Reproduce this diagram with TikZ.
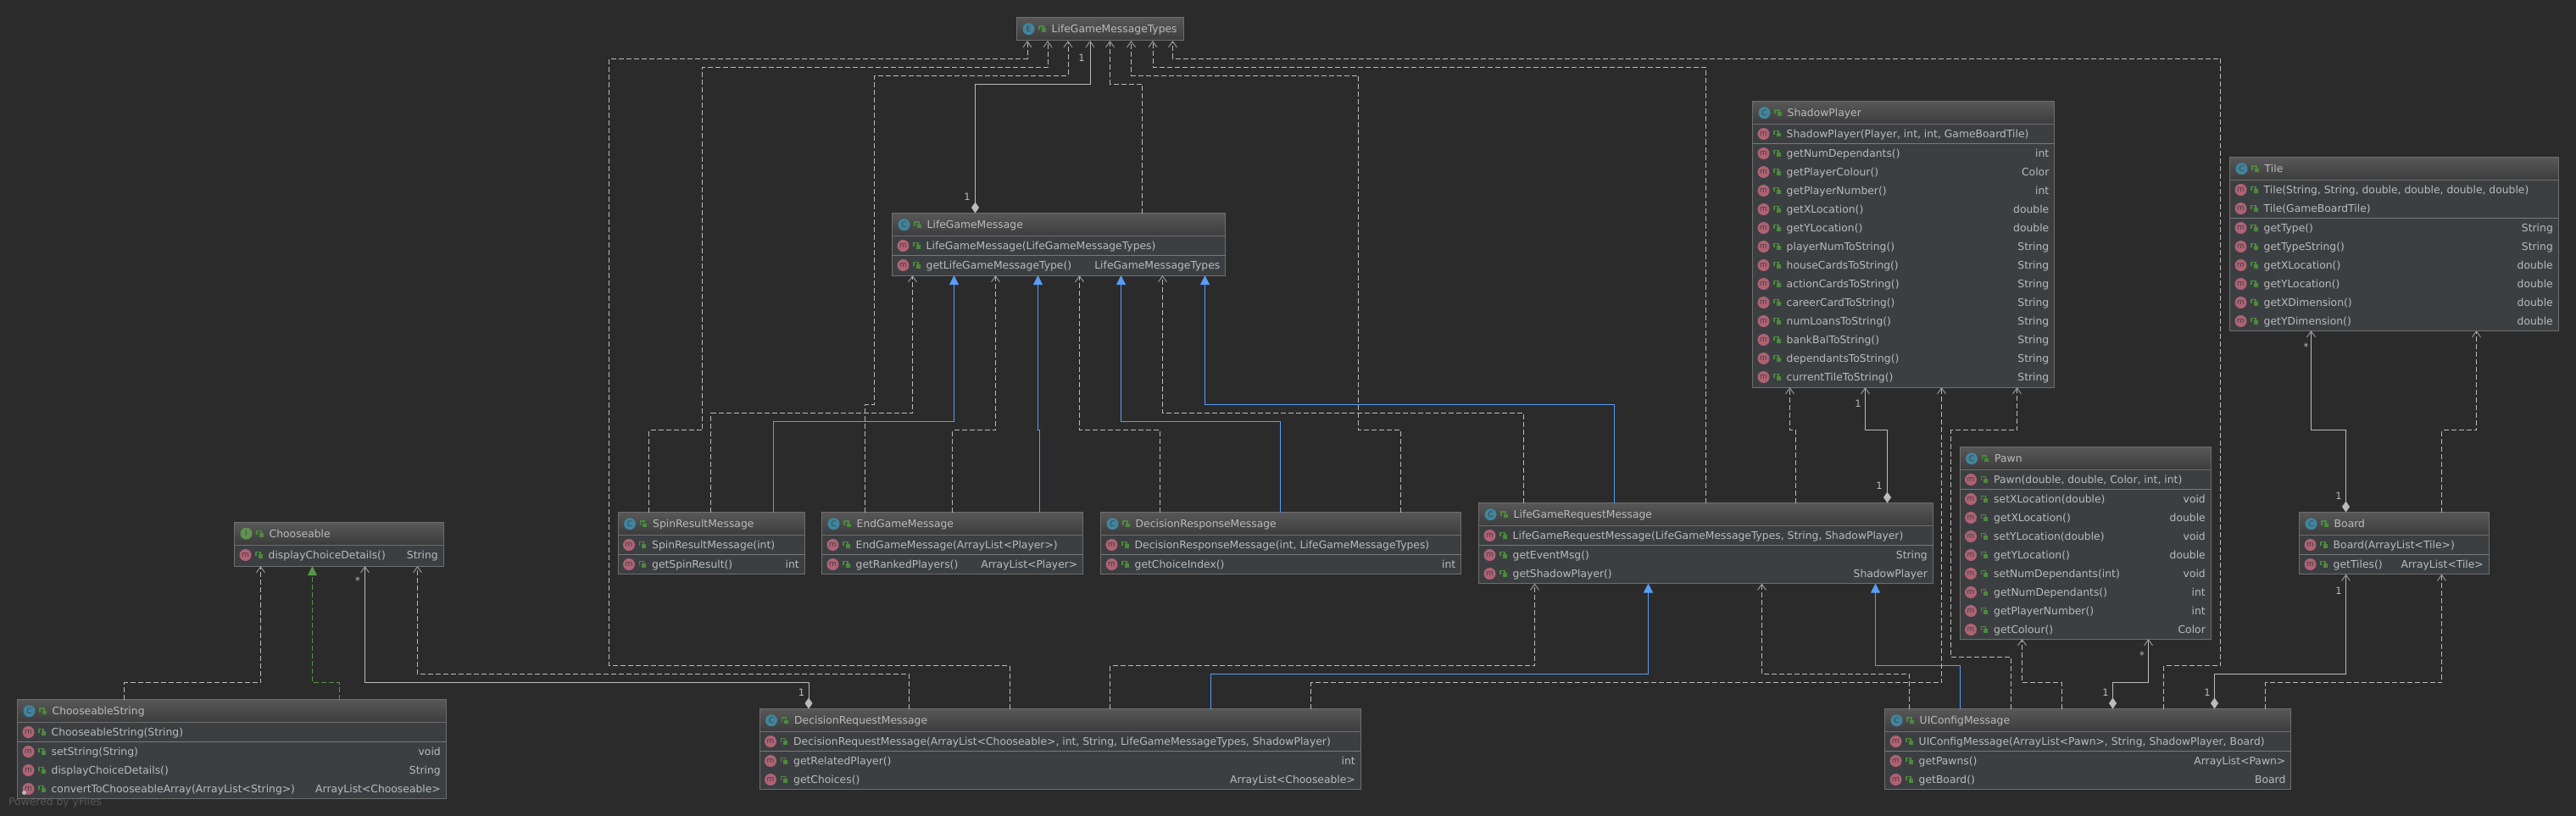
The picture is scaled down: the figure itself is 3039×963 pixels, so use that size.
\documentclass[tikz,border=0pt]{standalone}
\usepackage{fontspec}
\setmainfont{DejaVu Sans}
\usepackage{xcolor}
\usepackage{tikz}
\usetikzlibrary{
	arrows.meta,
	fit
}
\definecolor{PanelBg}{RGB}{43,43,43}
\definecolor{BodyFill}{RGB}{60,63,65}
\definecolor{HeadTop}{RGB}{88,88,88}
\definecolor{HeadBottom}{RGB}{60,60,60}
\definecolor{BoxEdge}{RGB}{110,110,110}
\definecolor{RowLine}{RGB}{120,120,120}
\definecolor{LabelText}{RGB}{187,187,187}
\definecolor{FootText}{RGB}{88,88,88}
\definecolor{EdgeGrey}{RGB}{187,187,187}
\definecolor{TipGrey}{RGB}{150,150,150}
\definecolor{EdgeBlue}{RGB}{88,157,246}
\definecolor{EdgeGreen}{RGB}{88,150,72}
\definecolor{ClassTeal}{RGB}{64,133,159}
\definecolor{IfaceGreen}{RGB}{98,145,79}
\definecolor{MethodPink}{RGB}{176,98,116}
\definecolor{LockGreen}{RGB}{76,138,60}
\tikzset{
	rowfont/.style={font=\fontsize{12.35pt}{14pt}\selectfont, text=LabelText},
	umlbody/.style={draw=BoxEdge, fill=BodyFill, line width=1pt, inner sep=0pt, outer sep=0pt},
	umlhead/.style={draw=BoxEdge, top color=HeadTop, bottom color=HeadBottom, line width=1pt, inner sep=0pt, outer sep=0pt},
	rowtext/.style={rowfont, anchor=west, inner sep=0pt, text height=10pt, text depth=1.4pt},
	rowret/.style={rowfont, anchor=east, inner sep=0pt, text height=10pt, text depth=1.4pt},
	kindicon/.style={circle, minimum size=14pt, inner sep=0pt, text=black!75, font=\fontsize{9pt}{9pt}\selectfont},
	multi/.style={font=\fontsize{11.5pt}{12pt}\selectfont, text=LabelText, inner sep=0pt},
	dep/.style={draw=EdgeGrey, line width=1pt, dash pattern=on 6pt off 3pt, -{Straight Barb[width=10pt,length=7pt,line width=1pt,color=TipGrey]}},
	assoc/.style={draw=EdgeGrey, line width=1pt, {Diamond[width=9pt,length=13pt,color=EdgeGrey]}-{Straight Barb[width=10pt,length=7pt,line width=1pt,color=TipGrey]}},
	extends/.style={draw=EdgeBlue, line width=1pt, -{Triangle[width=11pt,length=11pt,color=EdgeBlue]}},
	realizes/.style={draw=EdgeGreen, line width=1pt, dash pattern=on 6pt off 3pt, -{Triangle[width=11pt,length=11pt,color=EdgeGreen]}}
}
\newcommand{\lockicon}[2]{%
	\fill[LockGreen] (#1-1,#2-1) rectangle (#1+4,#2+3.5);
	\draw[LockGreen, line width=1.4pt] (#1-3.5,#2+1) -- (#1-3.5,#2-3.5) -- (#1+1.5,#2-3.5) -- (#1+1.5,#2-1);
}
% title, icon letter, icon colour, left, top, right, bottom
\newcommand{\umlbox}[7]{%
	\node[umlbody, fit={(#4,#5) (#6,#7)}] (#1) {};
	\node[umlhead, fit={(#4,#5) (#6,#5+27)}] (#1-head) {};
	\node[kindicon, fill=#3] (#1-icon) at (#4+14,#5+13.7) {#2};
	\lockicon{#4+30}{#5+14}
	\node[rowtext] (#1-title) at (#4+41,#5+13.7) {#1};
}
\newcommand{\umlctor}[3]{%
	\node[kindicon, fill=MethodPink, xshift=13pt] (#1-#2-icon) at (#1.west |- 0,#2) {m};
	\path (#1.west |- 0,#2) ++(29,0) coordinate (#1-#2-lock);
	\fill[LockGreen] (#1-#2-lock) ++(-1,-1) rectangle ++(5,4.5);
	\draw[LockGreen, line width=1.4pt] (#1-#2-lock) ++(-3.5,1) -- ++(0,-4.5) -- ++(5,0) -- ++(0,2.5);
	\node[rowtext, xshift=40pt] (#1-#2-text) at (#1.west |- 0,#2) {#3};
}
\newcommand{\umlrow}[4]{%
	\umlctor{#1}{#2}{#3}
	\node[rowret, xshift=-6pt] (#1-#2-ret) at (#1.east |- 0,#2) {#4};
}
\newcommand{\umldiv}[2]{\draw[RowLine, line width=1pt] (#1.west |- 0,#2) -- (#1.east |- 0,#2);}

\begin{document}
\begin{tikzpicture}[x=1pt, y=-1pt]
	\path[use as bounding box, fill=PanelBg] (0,0) rectangle (3039,963);

	% enum and base message
	\umlbox{LifeGameMessageTypes}{E}{ClassTeal}{1199.5}{20.5}{1396}{48}
	\umlbox{LifeGameMessage}{C}{ClassTeal}{1052.5}{251.5}{1445.5}{325}
	\umlctor{LifeGameMessage}{290}{LifeGameMessage(LifeGameMessageTypes)}
	\umlrow{LifeGameMessage}{313}{getLifeGameMessageType()}{LifeGameMessageTypes}
	\umldiv{LifeGameMessage}{301.5}

	% choices
	\umlbox{Chooseable}{I}{IfaceGreen}{276.5}{616}{523}{668}
	\umlrow{Chooseable}{655}{displayChoiceDetails()}{String}

	\umlbox{ChooseableString}{C}{ClassTeal}{20.5}{825.5}{526}{942}
	\umlctor{ChooseableString}{864}{ChooseableString(String)}
	\umldiv{ChooseableString}{875.5}
	\umlrow{ChooseableString}{887}{setString(String)}{void}
	\umlrow{ChooseableString}{909}{displayChoiceDetails()}{String}
	\umlrow{ChooseableString}{931}{convertToChooseableArray(ArrayList<String>)}{ArrayList<Chooseable>}

	% message subclasses
	\umlbox{SpinResultMessage}{C}{ClassTeal}{729}{604.5}{949}{677.5}
	\umlctor{SpinResultMessage}{643}{SpinResultMessage(int)}
	\umldiv{SpinResultMessage}{654.5}
	\umlrow{SpinResultMessage}{666}{getSpinResult()}{int}

	\umlbox{EndGameMessage}{C}{ClassTeal}{969.5}{604.5}{1277.5}{677.5}
	\umlctor{EndGameMessage}{643}{EndGameMessage(ArrayList<Player>)}
	\umldiv{EndGameMessage}{654.5}
	\umlrow{EndGameMessage}{666}{getRankedPlayers()}{ArrayList<Player>}

	\umlbox{DecisionResponseMessage}{C}{ClassTeal}{1298.5}{604.5}{1723.5}{677.5}
	\umlctor{DecisionResponseMessage}{643}{DecisionResponseMessage(int, LifeGameMessageTypes)}
	\umldiv{DecisionResponseMessage}{654.5}
	\umlrow{DecisionResponseMessage}{666}{getChoiceIndex()}{int}

	\umlbox{LifeGameRequestMessage}{C}{ClassTeal}{1744.5}{593.5}{2280}{688.5}
	\umlctor{LifeGameRequestMessage}{632}{LifeGameRequestMessage(LifeGameMessageTypes, String, ShadowPlayer)}
	\umldiv{LifeGameRequestMessage}{643.5}
	\umlrow{LifeGameRequestMessage}{655}{getEventMsg()}{String}
	\umlrow{LifeGameRequestMessage}{677}{getShadowPlayer()}{ShadowPlayer}

	\umlbox{DecisionRequestMessage}{C}{ClassTeal}{896}{836.5}{1605}{931.5}
	\umlctor{DecisionRequestMessage}{875}{DecisionRequestMessage(ArrayList<Chooseable>, int, String, LifeGameMessageTypes, ShadowPlayer)}
	\umldiv{DecisionRequestMessage}{886.5}
	\umlrow{DecisionRequestMessage}{898}{getRelatedPlayer()}{int}
	\umlrow{DecisionRequestMessage}{920}{getChoices()}{ArrayList<Chooseable>}

	\umlbox{UIConfigMessage}{C}{ClassTeal}{2223.5}{836.5}{2702.5}{931.5}
	\umlctor{UIConfigMessage}{875}{UIConfigMessage(ArrayList<Pawn>, String, ShadowPlayer, Board)}
	\umldiv{UIConfigMessage}{886.5}
	\umlrow{UIConfigMessage}{898}{getPawns()}{ArrayList<Pawn>}
	\umlrow{UIConfigMessage}{920}{getBoard()}{Board}

	% game state
	\umlbox{ShadowPlayer}{C}{ClassTeal}{2067.5}{119.5}{2423.5}{457}
	\umlctor{ShadowPlayer}{158}{ShadowPlayer(Player, int, int, GameBoardTile)}
	\umldiv{ShadowPlayer}{169.5}
	\umlrow{ShadowPlayer}{181}{getNumDependants()}{int}
	\umlrow{ShadowPlayer}{203}{getPlayerColour()}{Color}
	\umlrow{ShadowPlayer}{225}{getPlayerNumber()}{int}
	\umlrow{ShadowPlayer}{247}{getXLocation()}{double}
	\umlrow{ShadowPlayer}{269}{getYLocation()}{double}
	\umlrow{ShadowPlayer}{291}{playerNumToString()}{String}
	\umlrow{ShadowPlayer}{313}{houseCardsToString()}{String}
	\umlrow{ShadowPlayer}{335}{actionCardsToString()}{String}
	\umlrow{ShadowPlayer}{357}{careerCardToString()}{String}
	\umlrow{ShadowPlayer}{379}{numLoansToString()}{String}
	\umlrow{ShadowPlayer}{401}{bankBalToString()}{String}
	\umlrow{ShadowPlayer}{423}{dependantsToString()}{String}
	\umlrow{ShadowPlayer}{445}{currentTileToString()}{String}

	\umlbox{Pawn}{C}{ClassTeal}{2312}{527.5}{2608}{754}
	\umlctor{Pawn}{566}{Pawn(double, double, Color, int, int)}
	\umldiv{Pawn}{577.5}
	\umlrow{Pawn}{589}{setXLocation(double)}{void}
	\umlrow{Pawn}{611}{getXLocation()}{double}
	\umlrow{Pawn}{633}{setYLocation(double)}{void}
	\umlrow{Pawn}{655}{getYLocation()}{double}
	\umlrow{Pawn}{677}{setNumDependants(int)}{void}
	\umlrow{Pawn}{699}{getNumDependants()}{int}
	\umlrow{Pawn}{721}{getPlayerNumber()}{int}
	\umlrow{Pawn}{743}{getColour()}{Color}

	\umlbox{Tile}{C}{ClassTeal}{2630.5}{185.5}{3018}{390}
	\umlctor{Tile}{224}{Tile(String, String, double, double, double, double)}
	\umlctor{Tile}{246}{Tile(GameBoardTile)}
	\umldiv{Tile}{257.5}
	\umlrow{Tile}{269}{getType()}{String}
	\umlrow{Tile}{291}{getTypeString()}{String}
	\umlrow{Tile}{313}{getXLocation()}{double}
	\umlrow{Tile}{335}{getYLocation()}{double}
	\umlrow{Tile}{357}{getXDimension()}{double}
	\umlrow{Tile}{379}{getYDimension()}{double}

	\umlbox{Board}{C}{ClassTeal}{2712.5}{604.5}{2936}{677.5}
	\umlctor{Board}{643}{Board(ArrayList<Tile>)}
	\umldiv{Board}{654.5}
	\umlrow{Board}{666}{getTiles()}{ArrayList<Tile>}

	% edges into LifeGameMessageTypes
	\draw[dep] (DecisionRequestMessage.north -| 1191,0) -- (1191,785.5) -- (718.5,785.5) -- (718.5,69.5) -- (1212,69.5) -- (LifeGameMessageTypes.south -| 1212,0);
	\draw[dep] (SpinResultMessage.north -| 765.5,0) -- (765.5,507.5) -- (828.5,507.5) -- (828.5,79.5) -- (1236,79.5) -- (LifeGameMessageTypes.south -| 1236,0);
	\draw[dep] (EndGameMessage.north -| 1020,0) -- (1020,477.5) -- (1031.5,477.5) -- (1031.5,89.5) -- (1260,89.5) -- (LifeGameMessageTypes.south -| 1260,0);
	\draw[assoc] (LifeGameMessage.north -| 1150.5,0) -- (1150.5,99.5) -- (1286,99.5) -- (LifeGameMessageTypes.south -| 1286,0);
	\draw[dep] (LifeGameMessage.north -| 1347.5,0) -- (1347.5,99.5) -- (1309.5,99.5) -- (LifeGameMessageTypes.south -| 1309.5,0);
	\draw[dep] (DecisionResponseMessage.north -| 1652.5,0) -- (1652.5,507.5) -- (1602.5,507.5) -- (1602.5,89.5) -- (1334.5,89.5) -- (LifeGameMessageTypes.south -| 1334.5,0);
	\draw[dep] (LifeGameRequestMessage.north -| 2012,0) -- (2012,79.5) -- (1360,79.5) -- (LifeGameMessageTypes.south -| 1360,0);
	\draw[dep] (UIConfigMessage.north -| 2552.5,0) -- (2552.5,785.5) -- (2619.5,785.5) -- (2619.5,69.5) -- (1383.5,69.5) -- (LifeGameMessageTypes.south -| 1383.5,0);

	% edges into LifeGameMessage
	\draw[dep] (SpinResultMessage.north -| 838.5,0) -- (838.5,487.5) -- (1076.5,487.5) -- (LifeGameMessage.south -| 1076.5,0);
	\draw[extends] (SpinResultMessage.north -| 912.5,0) -- (912.5,497.5) -- (1125.5,497.5) -- (LifeGameMessage.south -| 1125.5,0);
	\draw[dep] (EndGameMessage.north -| 1123.5,0) -- (1123.5,507.5) -- (1174.5,507.5) -- (LifeGameMessage.south -| 1174.5,0);
	\draw[extends] (EndGameMessage.north -| 1226.5,0) -- (1226.5,507.5) -- (1224.5,507.5) -- (LifeGameMessage.south -| 1224.5,0);
	\draw[dep] (DecisionResponseMessage.north -| 1368.5,0) -- (1368.5,507.5) -- (1273.5,507.5) -- (LifeGameMessage.south -| 1273.5,0);
	\draw[extends] (DecisionResponseMessage.north -| 1510.5,0) -- (1510.5,497.5) -- (1322.5,497.5) -- (LifeGameMessage.south -| 1322.5,0);
	\draw[dep] (LifeGameRequestMessage.north -| 1797.5,0) -- (1797.5,487.5) -- (1371.5,487.5) -- (LifeGameMessage.south -| 1371.5,0);
	\draw[extends] (LifeGameRequestMessage.north -| 1904.5,0) -- (1904.5,477.5) -- (1421.5,477.5) -- (LifeGameMessage.south -| 1421.5,0);

	% edges into Chooseable
	\draw[dep] (ChooseableString.north -| 146.5,0) -- (146.5,805.5) -- (307.5,805.5) -- (Chooseable.south -| 307.5,0);
	\draw[realizes] (ChooseableString.north -| 400.5,0) -- (400.5,805.5) -- (368.5,805.5) -- (Chooseable.south -| 368.5,0);
	\draw[assoc] (DecisionRequestMessage.north -| 954,0) -- (954,805.5) -- (430.5,805.5) -- (Chooseable.south -| 430.5,0);
	\draw[dep] (DecisionRequestMessage.north -| 1072.5,0) -- (1072.5,795.5) -- (492.5,795.5) -- (Chooseable.south -| 492.5,0);

	% edges into LifeGameRequestMessage
	\draw[dep] (DecisionRequestMessage.north -| 1309.5,0) -- (1309.5,785.5) -- (1810.5,785.5) -- (LifeGameRequestMessage.south -| 1810.5,0);
	\draw[extends] (DecisionRequestMessage.north -| 1428.5,0) -- (1428.5,795.5) -- (1944.5,795.5) -- (LifeGameRequestMessage.south -| 1944.5,0);
	\draw[dep] (UIConfigMessage.north -| 2252.5,0) -- (2252.5,795.5) -- (2078.5,795.5) -- (LifeGameRequestMessage.south -| 2078.5,0);
	\draw[extends] (UIConfigMessage.north -| 2312.5,0) -- (2312.5,785.5) -- (2212.5,785.5) -- (LifeGameRequestMessage.south -| 2212.5,0);

	% edges into ShadowPlayer
	\draw[dep] (LifeGameRequestMessage.north -| 2118.5,0) -- (2118.5,507.5) -- (2111.5,507.5) -- (ShadowPlayer.south -| 2111.5,0);
	\draw[assoc] (LifeGameRequestMessage.north -| 2226.5,0) -- (2226.5,507.5) -- (2200.5,507.5) -- (ShadowPlayer.south -| 2200.5,0);
	\draw[dep] (DecisionRequestMessage.north -| 1546.5,0) -- (1546.5,805.5) -- (2290.5,805.5) -- (ShadowPlayer.south -| 2290.5,0);
	\draw[dep] (UIConfigMessage.north -| 2372.5,0) -- (2372.5,775.5) -- (2301.5,775.5) -- (2301.5,507.5) -- (2379.5,507.5) -- (ShadowPlayer.south -| 2379.5,0);

	% edges into Pawn, Board, Tile
	\draw[dep] (UIConfigMessage.north -| 2432.5,0) -- (2432.5,805.5) -- (2385.5,805.5) -- (Pawn.south -| 2385.5,0);
	\draw[assoc] (UIConfigMessage.north -| 2492.5,0) -- (2492.5,805.5) -- (2534.5,805.5) -- (Pawn.south -| 2534.5,0);
	\draw[assoc] (UIConfigMessage.north -| 2612.5,0) -- (2612.5,795.5) -- (2767.5,795.5) -- (Board.south -| 2767.5,0);
	\draw[dep] (UIConfigMessage.north -| 2672.5,0) -- (2672.5,805.5) -- (2880.5,805.5) -- (Board.south -| 2880.5,0);
	\draw[assoc] (Board.north -| 2767.5,0) -- (2767.5,507.5) -- (2726.5,507.5) -- (Tile.south -| 2726.5,0);
	\draw[dep] (Board.north -| 2880.5,0) -- (2880.5,507.5) -- (2921.5,507.5) -- (Tile.south -| 2921.5,0);

	% multiplicities
	\node[multi] (m-types) at (1276,68) {1};
	\node[multi] (m-msg) at (1141,232) {1};
	\node[multi] (m-choose) at (422,685) {*};
	\node[multi] (m-dreq) at (945.5,817) {1};
	\node[multi] (m-shadow) at (2192,476) {1};
	\node[multi] (m-lgrm) at (2217,573) {1};
	\node[multi] (m-pawn) at (2527,773) {*};
	\node[multi] (m-uia) at (2484,817) {1};
	\node[multi] (m-uib) at (2604,817) {1};
	\node[multi] (m-boarda) at (2759,697) {1};
	\node[multi] (m-boardb) at (2759,585) {1};
	\node[multi] (m-tile) at (2720.5,409) {*};

	% footer
	\node[circle, fill=LabelText, minimum size=5pt, inner sep=0pt] (flake) at (28.5,935.5) {};
	\node[rowfont, text=FootText, anchor=west, inner sep=0pt] (powered) at (10,947) {Powered by yFiles};
\end{tikzpicture}
\end{document}
